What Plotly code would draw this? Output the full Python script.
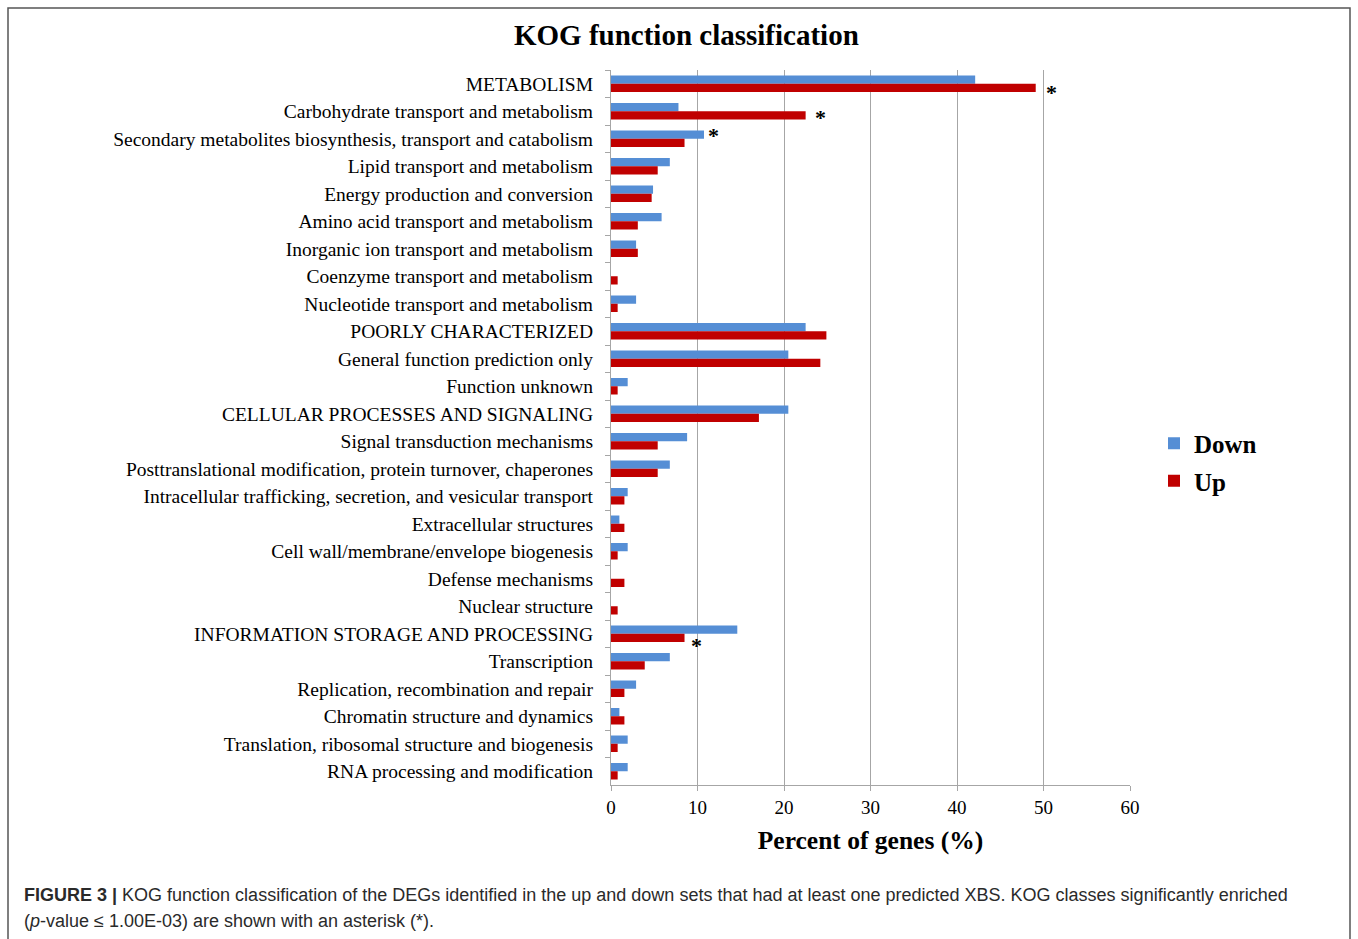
import plotly.graph_objects as go

categories = [
    "METABOLISM",
    "Carbohydrate transport and metabolism",
    "Secondary metabolites biosynthesis, transport and catabolism",
    "Lipid transport and metabolism",
    "Energy production and conversion",
    "Amino acid transport and metabolism",
    "Inorganic ion transport and metabolism",
    "Coenzyme transport and metabolism",
    "Nucleotide transport and metabolism",
    "POORLY CHARACTERIZED",
    "General function prediction only",
    "Function unknown",
    "CELLULAR PROCESSES AND SIGNALING",
    "Signal transduction mechanisms",
    "Posttranslational modification, protein turnover, chaperones",
    "Intracellular trafficking, secretion, and vesicular transport",
    "Extracellular structures",
    "Cell wall/membrane/envelope biogenesis",
    "Defense mechanisms",
    "Nuclear structure",
    "INFORMATION STORAGE AND PROCESSING",
    "Transcription",
    "Replication, recombination and repair",
    "Chromatin structure and dynamics",
    "Translation, ribosomal structure and biogenesis",
    "RNA processing and modification",
]

down = [42.1, 7.8, 10.75, 6.8, 4.86, 5.85, 2.9, 0.0, 2.9,
        22.5, 20.5, 1.93,
        20.5, 8.8, 6.8, 1.93, 0.97, 1.93, 0.0, 0.0,
        14.6, 6.8, 2.9, 0.97, 1.93, 1.93]
up = [49.1, 22.5, 8.5, 5.4, 4.7, 3.1, 3.1, 0.77, 0.77,
      24.9, 24.2, 0.77,
      17.1, 5.4, 5.4, 1.55, 1.55, 0.77, 1.55, 0.77,
      8.5, 3.9, 1.55, 1.55, 0.77, 0.77]

# significant classes: (category index, series)
significant = [(0, "Up"), (1, "Up"), (2, "Down"), (20, "Up")]

x_ticks = [0, 10, 20, 30, 40, 50, 60]

SERIF = "Liberation Serif"
SANS = "Liberation Sans"

fig = go.Figure()
fig.add_trace(go.Bar(
    y=categories, x=down, orientation="h", name="<b>Down</b>",
    marker=dict(color="#558ED5", line=dict(width=0)), legendgroup="d",
))
fig.add_trace(go.Bar(
    y=categories, x=up, orientation="h", name="<b>Up</b>",
    marker=dict(color="#C00000", line=dict(width=0)), legendgroup="u",
))

# asterisk annotations
ast_style = {0: (16, -9), 1: (15, -6.5), 2: (10, 3), 20: (12, -12)}
for idx, series in significant:
    val = up[idx] if series == "Up" else down[idx]
    xs, ys = ast_style[idx]
    fig.add_annotation(
        x=val, y=categories[idx], xref="x", yref="y", text="<b>*</b>",
        showarrow=False, xanchor="center", yanchor="middle",
        xshift=xs, yshift=ys, font=dict(family=SERIF, size=22, color="black"),
    )

W, H = 1358, 939
L, R, T, B = 611, 228, 70, 154
pw, ph = W - L - R, H - T - B

def px(xp):
    return (xp - L) / pw

def py(yp):
    return (H - B - yp) / ph

# outer border
fig.add_shape(type="rect", xref="paper", yref="paper",
              x0=px(8), x1=px(1350), y0=py(960), y1=py(8),
              line=dict(color="#555555", width=1.5), fillcolor="rgba(0,0,0,0)",
              layer="below")

# title
fig.add_annotation(x=px(686), y=py(35), xref="paper", yref="paper",
                   text="<b>KOG function classification</b>", showarrow=False,
                   xanchor="center", yanchor="middle",
                   font=dict(family=SERIF, size=29, color="black"))

# caption
fig.add_annotation(x=px(22), y=py(895), xref="paper", yref="paper",
                   text="<b>FIGURE 3 |</b> KOG function classification of the DEGs identified in the up and down sets that had at least one predicted XBS. KOG classes significantly enriched",
                   showarrow=False, xanchor="left", yanchor="middle",
                   font=dict(family=SANS, size=18, color="#2a2a2a"))
fig.add_annotation(x=px(22), y=py(921), xref="paper", yref="paper",
                   text="(<i>p</i>-value ≤ 1.00E-03) are shown with an asterisk (*).",
                   showarrow=False, xanchor="left", yanchor="middle",
                   font=dict(family=SANS, size=18, color="#2a2a2a"))

fig.update_layout(
    width=W, height=H,
    margin=dict(l=L, r=R, t=T, b=B, pad=0),
    paper_bgcolor="white", plot_bgcolor="white",
    barmode="group", bargap=0.4, bargroupgap=0.0,
    font=dict(family=SERIF, color="black"),
    showlegend=True,
    legend=dict(x=px(1154), y=py(462), xanchor="left", yanchor="middle",
                font=dict(family=SERIF, size=25, color="black"),
                tracegroupgap=2, itemwidth=30, bgcolor="rgba(0,0,0,0)"),
    xaxis=dict(range=[0, 60], tickvals=x_ticks, ticktext=[str(v) for v in x_ticks],
               showgrid=True, gridcolor="#A6A6A6", gridwidth=1.2,
               showline=True, linecolor="#A6A6A6", linewidth=1.2,
               ticks="outside", ticklen=5, tickcolor="#A6A6A6",
               tickfont=dict(family=SERIF, size=19, color="black"),
               zeroline=False,
               title=dict(text="<b>Percent of genes (%)</b>",
                          font=dict(family=SERIF, size=25.5, color="black"),
                          standoff=14)),
    yaxis=dict(range=[len(categories) - 0.5, -0.5], type="category",
               showline=True, linecolor="#A6A6A6", linewidth=1.2,
               ticks="outside", ticklen=5, tickcolor="#A6A6A6", tickson="boundaries",
               showgrid=False,
               tickfont=dict(family=SERIF, size=19.5, color="black"),
               ticklabelstandoff=13),
)

fig.write_html("out.html", config={"displayModeBar": False},
               post_script="document.body.style.margin='0';document.body.style.overflow='hidden';")
